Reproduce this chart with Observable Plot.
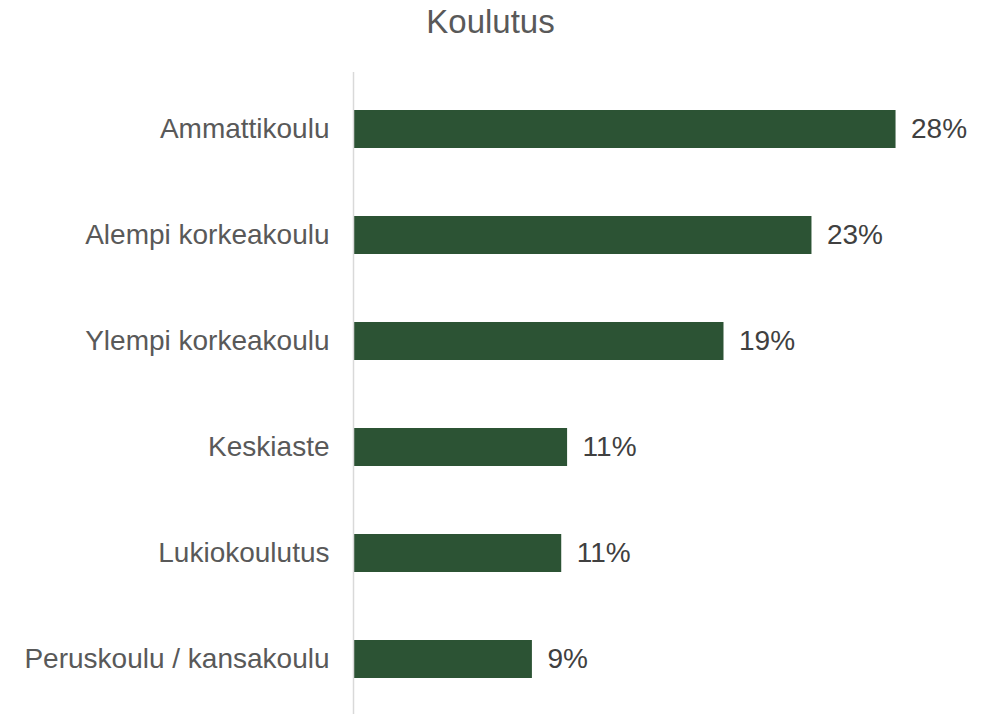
<!DOCTYPE html>
<html>
<head>
<meta charset="utf-8">
<script src="https://cdn.jsdelivr.net/npm/d3@7"></script>
<script src="https://cdn.jsdelivr.net/npm/@observablehq/plot@0.6"></script>
<style>
  html, body { margin: 0; padding: 0; background: #fff; }
  #title { font: 33px "Liberation Sans", Arial, sans-serif; color: #595959; text-align: center;
           width: 981px; height: 50px; line-height: 43px; }
</style>
</head>
<body>
<div id="title">Koulutus</div>
<div id="chart"></div>
<script>
const categories = ["Ammattikoulu", "Alempi korkeakoulu", "Ylempi korkeakoulu", "Keskiaste", "Lukiokoulutus", "Peruskoulu / kansakoulu"];
const values = [27.7, 23.4, 18.9, 10.9, 10.6, 9.1];

const data = categories.map((c, i) => ({category: c, value: values[i]}));

const chart = Plot.plot({
  width: 991,
  height: 664,
  marginTop: 22,
  marginBottom: 0,
  marginLeft: 354,
  marginRight: 0,
  style: {fontFamily: "'Liberation Sans', Arial, sans-serif", background: "#fff"},
  x: {domain: [0, 30], range: [354, 940.5], axis: null},
  y: {domain: categories, range: [23.3, 665.3], paddingInner: 0.64, paddingOuter: 0.325, label: null},
  marks: [
    Plot.barX(data, {x: "value", y: "category", fill: "#2c5334"}),
    Plot.ruleX([0], {stroke: "#d9d9d9", strokeWidth: 1.5, dx: -1}),
    Plot.text(data, {x: "value", y: "category", text: d => Math.round(d.value) + "%",
      textAnchor: "start", dx: 15, fontSize: 28, fill: "#404040"}),
    Plot.axisY({tickSize: 0, tickPadding: 25, fontSize: 28, fill: "#595959", label: null})
  ]
});
document.getElementById("chart").appendChild(chart);
</script>
</body>
</html>
